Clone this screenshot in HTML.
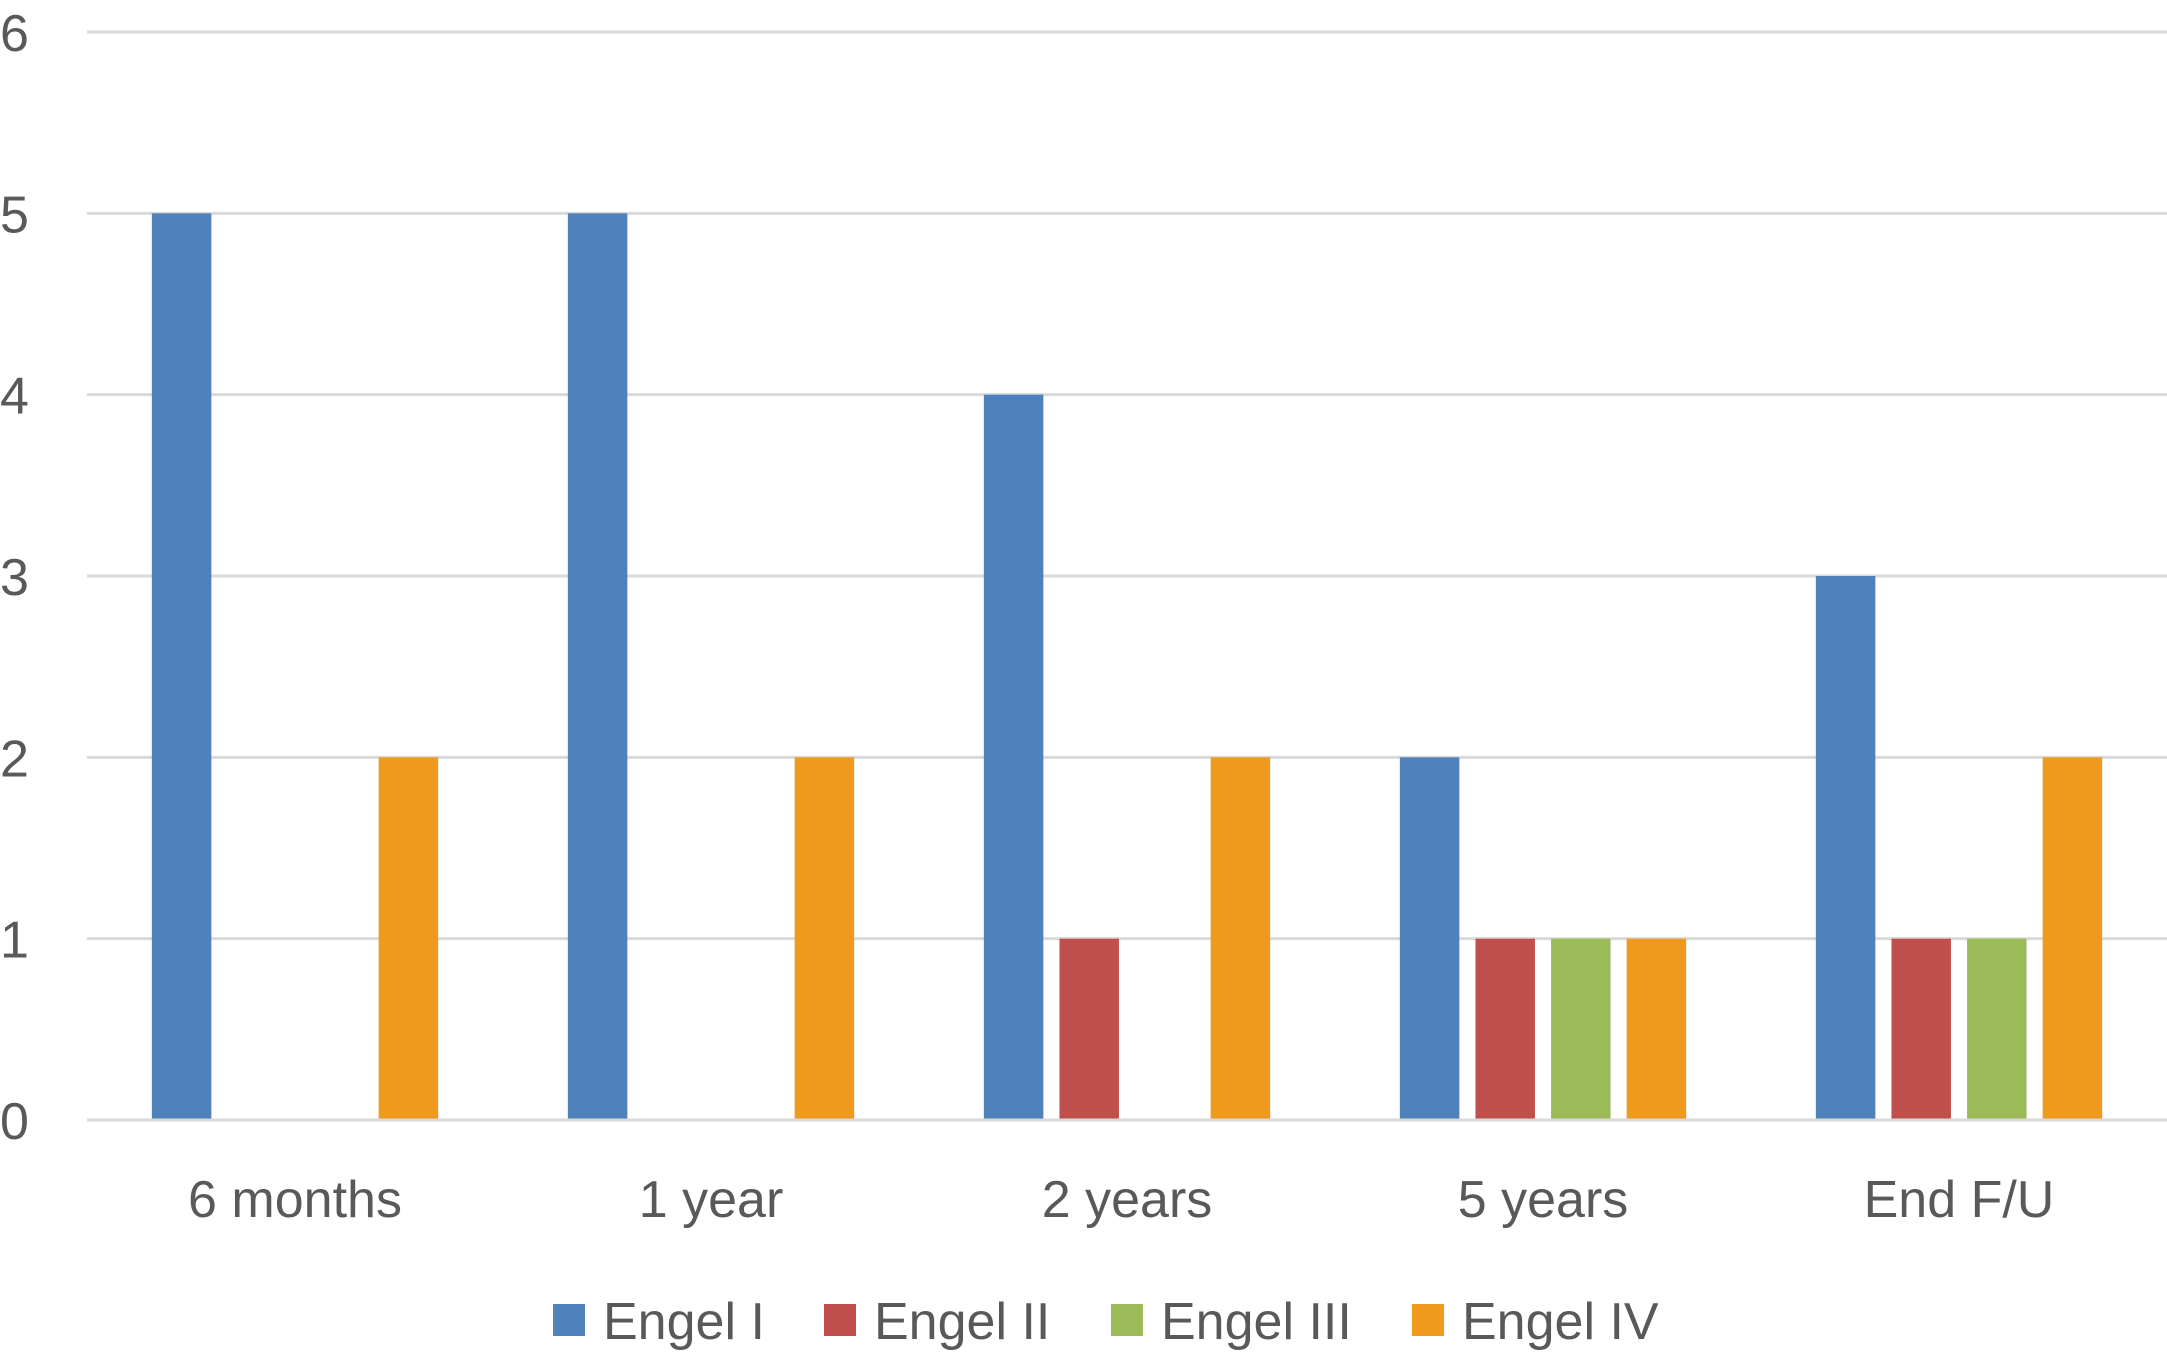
<!DOCTYPE html>
<html><head><meta charset="utf-8"><style>
html,body{margin:0;padding:0;background:#fff;}
svg{display:block;font-family:"Liberation Sans",sans-serif;}
</style></head><body>
<svg id="chart" width="2167" height="1356"></svg>
<script>
const categories=["6 months","1 year","2 years","5 years","End F/U"];
const seriesNames=["Engel I","Engel II","Engel III","Engel IV"];
const seriesColors=["#4f81bd","#c0504d","#9bbb59","#f09a1d"];
const engelI=[5,5,4,2,3];
const engelII=[0,0,1,1,1];
const engelIII=[0,0,0,1,1];
const engelIV=[2,2,2,1,2];
const yTicks=[0,1,2,3,4,5,6];
const series=[engelI,engelII,engelIII,engelIV];

const NS="http://www.w3.org/2000/svg";
const svg=document.getElementById('chart');
const plotL=87,plotR=2167,y0=1120,y6=32;
const yScale=v=>y0-(y0-y6)*v/6;
const groupW=(plotR-plotL)/categories.length;
const barW=59.5,step=75.6;
function mk(tag,attrs){const e=document.createElementNS(NS,tag);for(const k in attrs)e.setAttribute(k,attrs[k]);svg.appendChild(e);return e;}

yTicks.forEach(t=>{
  const y=yScale(t);
  const g=mk('line',{x1:plotL,x2:plotR,y1:y,y2:y,stroke:'#d9d9d9','stroke-width':3});
  
  
  const l=mk('text',{x:0,y:y+19,'font-size':52,fill:'#595959'});
  l.textContent=t;
  
  
});

categories.forEach((c,i)=>{
  const cx=plotL+groupW*(i+0.5);
  series.forEach((s,j)=>{
    const v=s[i];
    if(v<=0)return;
    const x=cx+(j-1.5)*step-barW/2;
    const r=mk('rect',{x:x,y:yScale(v),width:barW,height:y0-yScale(v),fill:seriesColors[j]});
    
    
  });
  const t=mk('text',{x:cx,y:1217,'font-size':52,fill:'#595959','text-anchor':'middle'});
  t.textContent=c;
  
  
});
const base=mk('line',{x1:plotL,x2:plotR,y1:y0,y2:y0,stroke:'#d9d9d9','stroke-width':3});



const legX=[553,824,1111,1412];
seriesNames.forEach((n,j)=>{
  const sq=mk('rect',{x:legX[j],y:1304,width:32,height:32,fill:seriesColors[j]});
  
  
  const t=mk('text',{x:legX[j]+50,y:1339,'font-size':52,fill:'#595959'});
  t.textContent=n;
  
  
});
</script>
</body></html>
